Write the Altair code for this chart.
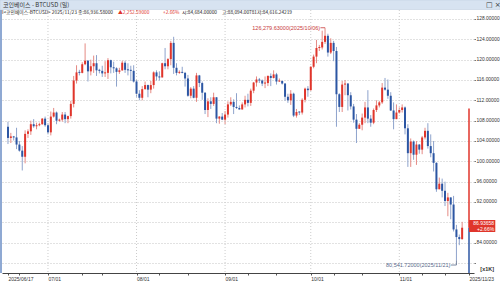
import altair as alt
import pandas as pd

# ---------------- data (values in thousands USD), 2025/06/17 .. 2025/11/23 ----------------
opens = [
    106.8, 104.6, 104.9, 104.7, 103.3, 102.1, 100.9, 105.4, 105.9, 107.3, 106.9, 107.1, 107.3, 108.4,
    107.1, 105.7, 108.8, 109.6, 108.0, 108.2, 109.2, 108.3, 108.9, 111.3, 115.9, 117.5, 117.4, 119.1, 119.8, 117.7,
    118.7, 119.3, 117.9, 117.8, 117.3, 117.4, 119.9, 118.5, 118.3, 117.6, 117.9, 119.4, 118.0, 117.9, 117.8,
    115.7, 113.3, 112.5, 114.2, 115.0, 114.1, 115.0, 117.5, 116.7, 116.5, 119.3, 118.7, 120.1, 123.3, 118.4, 117.4,
    117.5, 117.4, 116.3, 112.9, 114.3, 112.5, 116.9, 115.4, 113.5, 110.1, 111.8, 111.3, 112.6, 108.4, 108.8,
    108.2, 109.2, 111.2, 111.7, 110.7, 110.5, 110.2, 111.2, 112.1, 111.5, 113.9, 115.5, 116.1, 115.9, 115.3,
    115.4, 116.8, 116.4, 117.1, 115.7, 115.8, 115.3, 112.7, 112.0, 113.3, 109.0, 109.7, 109.6, 112.1, 114.3,
    114.0, 118.6, 120.6, 122.3, 122.4, 123.5, 124.7, 121.4, 123.3, 121.7, 113.2, 110.7, 115.1, 115.3, 113.0, 110.8,
    108.2, 106.4, 107.2, 108.6, 110.6, 108.4, 107.6, 110.1, 111.0, 111.6, 114.5, 114.1, 112.9, 110.0, 108.3,
    109.6, 110.1, 110.6, 106.5, 101.6, 103.9, 101.3, 103.3, 102.3, 104.7, 106.0, 103.0, 101.6, 99.7, 94.5, 95.6,
    94.2, 92.2, 92.9, 91.5, 86.6, 85.1, 84.684,
]
highs = [
    107.8, 105.6, 105.0, 106.6, 104.0, 103.0, 106.1, 106.3, 108.0, 108.3, 107.6, 107.6, 108.5, 108.8,
    107.5, 109.8, 110.5, 109.8, 108.4, 109.7, 109.7, 109.0, 111.9, 116.8, 118.9, 118.0, 119.5, 123.2, 119.9, 120.0,
    120.8, 120.9, 118.2, 118.8, 119.7, 120.3, 120.0, 119.6, 118.5, 118.4, 119.8, 119.8, 119.3, 118.8, 118.9,
    116.1, 114.0, 114.8, 115.7, 115.1, 115.8, 117.7, 117.9, 117.7, 119.4, 122.3, 120.3, 123.7, 124.5, 119.3, 117.9,
    118.6, 117.6, 117.0, 114.6, 114.8, 117.4, 117.0, 115.7, 113.6, 112.4, 112.6, 113.5, 112.6, 108.9, 109.5,
    109.9, 111.8, 112.6, 112.2, 113.4, 111.0, 111.6, 112.9, 113.3, 114.3, 115.6, 116.7, 116.4, 116.1, 116.7,
    116.9, 117.3, 117.9, 117.4, 116.3, 115.9, 115.4, 113.3, 114.0, 113.5, 110.3, 109.8, 112.4, 114.5, 114.8,
    118.7, 121.0, 123.9, 122.9, 125.7, 126.28, 125.1, 124.2, 123.7, 122.5, 113.4, 115.8, 116.0, 115.4, 113.6, 111.3,
    109.3, 107.5, 109.4, 111.7, 114.0, 109.1, 110.4, 112.0, 111.9, 115.4, 116.4, 116.1, 113.6, 111.6, 111.2,
    110.6, 111.2, 110.8, 107.3, 104.5, 104.1, 104.0, 103.4, 105.0, 106.6, 107.5, 105.3, 104.0, 99.8, 96.8, 96.6,
    96.0, 93.8, 92.9, 93.2, 87.5, 85.6, 88.094,
]
lows = [
    103.4, 103.6, 104.1, 102.4, 101.9, 98.2, 99.6, 104.6, 105.2, 106.6, 106.3, 106.9, 107.2, 106.8,
    105.3, 105.1, 108.6, 107.3, 107.8, 107.8, 107.5, 107.5, 108.4, 110.6, 115.3, 116.9, 117.3, 118.9, 115.7, 116.9,
    117.4, 116.8, 117.3, 116.6, 116.6, 116.2, 117.3, 117.4, 114.7, 117.2, 117.8, 117.4, 116.9, 115.8, 115.5,
    112.7, 112.0, 112.0, 114.1, 112.6, 113.4, 114.3, 115.9, 115.9, 116.5, 118.1, 118.1, 118.9, 117.2, 116.9, 117.2,
    117.3, 114.7, 112.7, 112.4, 112.4, 111.7, 114.6, 112.1, 109.3, 108.7, 110.3, 110.9, 107.5, 107.4, 108.1,
    107.3, 108.6, 110.9, 109.3, 110.3, 110.2, 110.2, 110.6, 110.8, 110.9, 113.4, 114.7, 115.4, 114.8, 114.4,
    114.8, 114.8, 116.3, 115.1, 115.6, 115.1, 111.9, 111.5, 111.1, 108.7, 108.6, 109.1, 109.2, 111.6, 112.7,
    113.9, 118.3, 119.3, 121.7, 122.0, 123.1, 120.6, 121.1, 119.7, 106.8, 109.7, 109.7, 113.0, 110.0, 110.2, 107.6,
    103.6, 106.4, 106.1, 107.5, 107.5, 106.8, 107.3, 109.7, 110.6, 111.3, 113.9, 112.3, 109.9, 106.3, 108.3,
    109.4, 109.6, 105.3, 98.9, 98.9, 100.3, 99.3, 101.5, 101.4, 104.3, 102.5, 100.8, 98.0, 94.0, 94.5, 92.9,
    91.2, 89.2, 88.6, 86.2, 80.54172, 83.5, 84.616,
]
closes = [
    104.6, 104.9, 104.7, 103.3, 102.1, 100.9, 105.4, 105.9, 107.3, 106.9, 107.1, 107.3, 108.4, 107.1,
    105.7, 108.8, 109.6, 108.0, 108.2, 109.2, 108.3, 108.9, 111.3, 115.9, 117.5, 117.4, 119.1, 119.8, 117.7, 118.7,
    119.3, 117.9, 117.8, 117.3, 117.4, 119.9, 118.5, 118.3, 117.6, 117.9, 119.4, 118.0, 117.9, 117.8, 115.7,
    113.3, 112.5, 114.2, 115.0, 114.1, 115.0, 117.5, 116.7, 116.5, 119.3, 118.7, 120.1, 123.3, 118.4, 117.4, 117.5,
    117.4, 116.3, 112.9, 114.3, 112.5, 116.9, 115.4, 113.5, 110.1, 111.8, 111.3, 112.6, 108.4, 108.8, 108.2,
    109.2, 111.2, 111.7, 110.7, 110.5, 110.2, 111.2, 112.1, 111.5, 113.9, 115.5, 116.1, 115.9, 115.3, 115.4,
    116.8, 116.4, 117.1, 115.7, 115.8, 115.3, 112.7, 112.0, 113.3, 109.0, 109.7, 109.6, 112.1, 114.3, 114.0,
    118.6, 120.6, 122.3, 122.4, 123.5, 124.7, 121.4, 123.3, 121.7, 113.2, 110.7, 115.1, 115.3, 113.0, 110.8, 108.2,
    106.4, 107.2, 108.6, 110.6, 108.4, 107.6, 110.1, 111.0, 111.6, 114.5, 114.1, 112.9, 110.0, 108.3, 109.6,
    110.1, 110.6, 106.5, 101.6, 103.9, 101.3, 103.3, 102.3, 104.7, 106.0, 103.0, 101.6, 99.7, 94.5, 95.6, 94.2,
    92.2, 92.9, 91.5, 86.6, 85.1, 84.7, 86.937,
]
assert len(opens) == len(highs) == len(lows) == len(closes) == 160

# x-axis ticks (day index from 2025/06/17) and their labels
tick_days = [0, 4, 14, 26, 33, 45, 53, 63, 76, 84, 94, 106, 114, 124, 137, 145, 153, 161.4]
tick_labels = ["2025/06/17", "", "07/01", "", "", "08/01", "", "", "09/01", "", "",
               "10/01", "", "", "11/01", "", "", "2025/11/23"]
month_days = [14, 45, 76, 106, 137]
y_ticks = [80, 84, 88, 92, 96, 100, 104, 108, 112, 116, 120, 124, 128]

title_text = "코인베이스 - BTCUSD (일)"
info_texts = ["I<코인베이스-BTCUSD> 2025/11/23 종:86,936.58000", "▲2,252.59000", "+2.66%",
              "시:84,684.00000", "고:88,094.00781", "저:84,616.24219"]
high_note = "126,279.63000(2025/10/06)"
low_note = "80,541.72000(2025/11/21)"
price_text = ["86.93658", "+2.66%"]
unit_text = "[x1K]"

# ---------------- layout / style ----------------
W, H = 472, 263
X_DOM = [-0.343, 161.4]
Y_DOM = [78.03, 129.77]
UP, DOWN = "#e0352b", "#2c56a3"
UPW, DOWNW = "#e58a84", "#8ea3cc"
FONT = "Liberation Sans"
KFONT = "Noto Sans CJK KR"

xs = alt.Scale(domain=X_DOM, nice=False, zero=False)
ys = alt.Scale(domain=Y_DOM, nice=False, zero=False)

df = pd.DataFrame({"d": list(range(160)), "o": opens, "h": highs, "l": lows, "c": closes})
df["up"] = df["c"] >= df["o"]
df["top"] = df[["o", "c"]].max(axis=1)
df["bot"] = df[["o", "c"]].min(axis=1)
small = (df["top"] - df["bot"]) < 0.2
df.loc[small, "top"] = df.loc[small, "bot"] + 0.2

lab_expr = " : ".join(
    f"abs(datum.value - {v}) < 0.01 ? '{t}'" for v, t in zip(tick_days, tick_labels)
) + " : ''"

x_axis = alt.Axis(values=tick_days, labelExpr=lab_expr, labelAlign="left", labelBaseline="top",
                  labelPadding=1, tickSize=2, tickColor="#555", domainColor="#444", grid=False,
                  labelFontSize=5.0, labelFont=FONT, labelColor="#333", labelFlush=False,
                  labelOverlap=False, labelBound=False, title=None)
# the 80 label is replaced by the unit text, the 88 label sits under the price box
y_axis = alt.Axis(orient="right", values=y_ticks,
                  labelExpr="(datum.value < 82 || abs(datum.value - 88) < 0.1) ? '' : format(datum.value, '.5f')",
                  grid=True, gridDash=[1, 2], gridColor="#c4c4c4", domain=False, tickSize=1.5,
                  tickColor="#777", labelFontSize=4.9, labelFont=FONT, labelColor="#333",
                  labelPadding=0.5, labelOverlap=False, labelBound=False, title=None)


def X(f):
    return alt.X(f, scale=xs, axis=x_axis)


def Y(f):
    return alt.Y(f, scale=ys, axis=y_axis)


color_w = alt.condition("datum.up", alt.value(UPW), alt.value(DOWNW))
color_b = alt.condition("datum.up", alt.value(UP), alt.value(DOWN))

wicks = alt.Chart(df).mark_rule(strokeWidth=1).encode(
    x=X("d:Q"), y=Y("l:Q"), y2="h:Q", color=color_w)
bodies = alt.Chart(df).mark_bar(size=2).encode(
    x=X("d:Q"), y=Y("bot:Q"), y2="top:Q", color=color_b)

vgrid = alt.Chart(pd.DataFrame({"d": month_days})).mark_rule(
    strokeDash=[1, 2], color="#cccccc", strokeWidth=1
).encode(x=X("d:Q"))

one = pd.DataFrame({"a": [0]})

left_border = alt.Chart(one).mark_rule(color="#6a8cc4", strokeWidth=1.5).encode(
    x=alt.value(-1), y=alt.value(0), y2=alt.value(H))

seg = pd.DataFrame({"d": [161.4, 161.4], "y": [110.4, 86.94], "y2": [86.94, 78.03],
                    "col": [UP, DOWN]})
right_line = alt.Chart(seg).mark_rule(strokeWidth=1.5).encode(
    x=X("d:Q"), y=Y("y:Q"), y2="y2:Q", color=alt.Color("col:N", scale=None))

box = alt.Chart(pd.DataFrame({"d": [161.4], "d2": [170.6], "y": [88.46], "y2": [86.1]})).mark_rect(
    color=UP).encode(x=X("d:Q"), x2="d2:Q", y=Y("y:Q"), y2="y2:Q")
box_txt = alt.Chart(pd.DataFrame({"d": [170.2, 170.2], "y": [87.87, 86.69], "t": price_text})).mark_text(
    align="right", baseline="middle", fontSize=5, font=FONT, color="white").encode(
    x=X("d:Q"), y=Y("y:Q"), text="t:N")

unit = alt.Chart(pd.DataFrame({"d": [170.2], "y": [78.82], "t": [unit_text]})).mark_text(
    align="right", baseline="middle", fontSize=5.5, font=FONT, fontWeight="bold", color="#333").encode(
    x=X("d:Q"), y=Y("y:Q"), text="t:N")

# high / low annotations
hi_txt = alt.Chart(pd.DataFrame({"d": [109.3], "y": [126.28], "t": [high_note]})).mark_text(
    align="right", baseline="middle", fontSize=5.5, font=FONT, color="#c83a3a").encode(
    x=X("d:Q"), y=Y("y:Q"), text="t:N")
hi_line = alt.Chart(pd.DataFrame({"d": [109.4], "d2": [111.0], "y": [126.28]})).mark_rule(
    color="#c83a3a", strokeWidth=0.8).encode(x=X("d:Q"), x2="d2:Q", y=Y("y:Q"))
lo_txt = alt.Chart(pd.DataFrame({"d": [154.9], "y": [79.6], "t": [low_note]})).mark_text(
    align="right", baseline="middle", fontSize=5.5, font=FONT, color="#5a6b8c").encode(
    x=X("d:Q"), y=Y("y:Q"), text="t:N")
lo_line = alt.Chart(pd.DataFrame({"d": [155.0], "d2": [157.0], "y": [79.6]})).mark_rule(
    color="#5a6b8c", strokeWidth=0.8).encode(x=X("d:Q"), x2="d2:Q", y=Y("y:Q"))
lo_up = alt.Chart(pd.DataFrame({"d": [157.0], "y": [79.6], "y2": [80.54]})).mark_rule(
    color="#5a6b8c", strokeWidth=0.8).encode(x=X("d:Q"), y=Y("y:Q"), y2="y2:Q")

# title bar and info line
bar = alt.Chart(one).mark_rect(color="#d7e3f1", stroke="#b9c9dd", strokeWidth=0.5).encode(
    x=alt.value(-2), x2=alt.value(498), y=alt.value(-10), y2=alt.value(-0.5))
title = alt.Chart(one).mark_text(align="left", baseline="middle", fontSize=6, font=KFONT,
                                 color="#333").encode(x=alt.value(1), y=alt.value(-5),
                                                      text=alt.value(title_text))
icons = alt.Chart(one).mark_text(align="left", baseline="middle", fontSize=7, font="DejaVu Sans",
                                 color="#333").encode(x=alt.value(484), y=alt.value(-5),
                                                      text=alt.value("□ ×"))
info_x = [0, 116, 161, 180, 220, 255]
info_col = ["#222", UP, UP, "#222", "#222", "#222"]
info_layers = [
    alt.Chart(one).mark_text(align="left", baseline="middle", fontSize=4.8, font=KFONT,
                             color=c).encode(x=alt.value(x), y=alt.value(3), text=alt.value(t))
    for t, x, c in zip(info_texts, info_x, info_col)
]

chart = alt.layer(
    wicks, vgrid, bodies, left_border, right_line, box, box_txt, unit,
    hi_line, hi_txt, lo_line, lo_up, lo_txt, bar, title, icons, *info_layers
).properties(
    width=W, height=H,
    autosize=alt.AutoSizeParams(type="none"),
    padding={"left": 2, "top": 10, "right": 26, "bottom": 10},
    background="white",
).configure_view(stroke=None)

chart.save("out.html", embed_options={"renderer": "svg", "actions": False})
